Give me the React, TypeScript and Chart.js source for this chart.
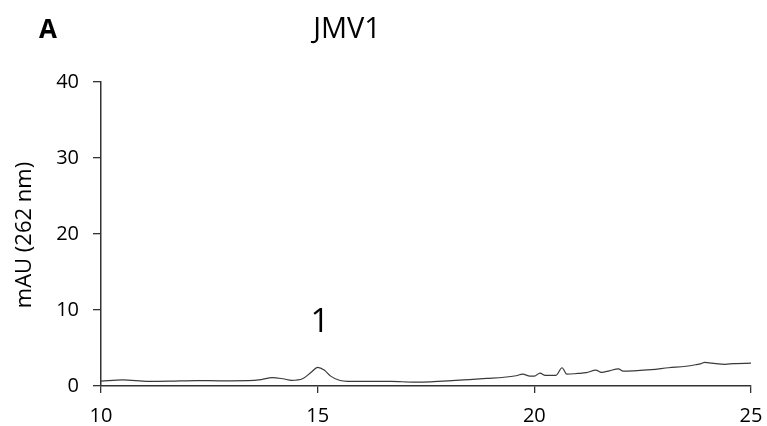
import React, { useEffect, useRef } from "react";
import { Chart, registerables } from "chart.js";

Chart.register(...registerables);

const times = [10, 10.5, 11.1, 11.6, 12.2, 12.8, 13.4, 13.7, 13.95, 14.2, 14.4, 14.65, 14.85, 15.0, 15.15, 15.3, 15.5, 15.7, 16.2, 16.7, 17.2, 17.6, 18.1, 18.5, 18.9, 19.3, 19.58, 19.73, 19.9, 20.0, 20.13, 20.25, 20.5, 20.64, 20.75, 21.0, 21.2, 21.42, 21.55, 21.73, 21.94, 22.05, 22.3, 22.7, 23.1, 23.5, 23.72, 23.85, 23.93, 24.1, 24.4, 24.6, 25];
const absorbance = [0.65, 0.8, 0.62, 0.65, 0.72, 0.68, 0.7, 0.85, 1.1, 0.95, 0.75, 0.95, 1.8, 2.45, 2.1, 1.3, 0.75, 0.62, 0.6, 0.6, 0.52, 0.55, 0.7, 0.85, 1.0, 1.15, 1.35, 1.55, 1.3, 1.3, 1.7, 1.4, 1.4, 2.4, 1.55, 1.65, 1.75, 2.1, 1.8, 2.0, 2.25, 1.95, 2.0, 2.15, 2.4, 2.6, 2.8, 2.95, 3.1, 3.0, 2.85, 2.95, 3.0];
const xTicks = [10, 15, 20, 25];
const yTicks = [0, 10, 20, 30, 40];
const peakLabels = [{ text: "1", x: 15.05, y: 8.4 }];
const panelLabel = "A";
const chartTitle = "JMV1";
const yAxisTitle = "mAU (262 nm)";

const FONT = "'Open Sans', 'Noto Sans', sans-serif";

export default function App() {
  const ref = useRef<HTMLCanvasElement | null>(null);
  useEffect(() => {
    if (!ref.current) return;
    const textPlugin = {
      id: "texts",
      afterDraw(chart: any) {
        const ctx = chart.ctx;
        const xs = chart.scales.x;
        const ys = chart.scales.y;
        ctx.save();
        ctx.fillStyle = "#000";
        ctx.textAlign = "center";
        ctx.textBaseline = "middle";
        ctx.font = `bold 26px ${FONT}`;
        ctx.fillText(panelLabel, 48, 31);
        ctx.font = `29px ${FONT}`;
        ctx.fillText(chartTitle, 347, 30);
        ctx.font = `33px ${FONT}`;
        for (const p of peakLabels) {
          ctx.fillText(p.text, xs.getPixelForValue(p.x), ys.getPixelForValue(p.y));
        }
        ctx.translate(25, 235);
        ctx.rotate(-Math.PI / 2);
        ctx.font = `22px ${FONT}`;
        ctx.fillText(yAxisTitle, 0, 0);
        ctx.restore();
      },
    };
    const chart = new Chart(ref.current, {
      type: "line",
      data: {
        datasets: [
          {
            data: times.map((t, i) => ({ x: t, y: absorbance[i] })),
            borderColor: "#3a3a3a",
            borderWidth: 1.2,
            pointRadius: 0,
            cubicInterpolationMode: "monotone",
            fill: false,
          },
        ],
      },
      options: {
        animation: false,
        responsive: false,
        devicePixelRatio: 1,
        layout: { padding: { left: 0, right: 16, top: 82, bottom: 0 } },
        plugins: { legend: { display: false }, tooltip: { enabled: false } },
        scales: {
          x: {
            type: "linear",
            min: 10,
            max: 25,
            afterBuildTicks: (s: any) => {
              s.ticks = xTicks.map((v) => ({ value: v }));
            },
            afterFit: (s: any) => {
              s.height = 40;
              s.paddingLeft = 0;
              s.paddingRight = 0;
            },
            ticks: { color: "#000", font: { family: FONT, size: 20 }, padding: 11, maxRotation: 0 },
            grid: { drawOnChartArea: false, tickLength: 7, color: "#333", lineWidth: 1.3 },
            border: { color: "#333", width: 1.5 },
          },
          y: {
            type: "linear",
            min: 0,
            max: 40,
            afterBuildTicks: (s: any) => {
              s.ticks = yTicks.map((v) => ({ value: v }));
            },
            afterFit: (s: any) => {
              s.width = 101;
              s.paddingTop = 0;
              s.paddingBottom = 0;
            },
            ticks: { color: "#000", font: { family: FONT, size: 20 }, padding: 14 },
            grid: { drawOnChartArea: false, tickLength: 8, color: "#333", lineWidth: 1.3 },
            border: { color: "#333", width: 1.5 },
          },
        },
      },
      plugins: [textPlugin],
    } as any);
    return () => chart.destroy();
  }, []);
  return (
    <div style={{ position: "fixed", left: 0, top: 0, width: 767, height: 426, background: "#fff" }}>
      <canvas ref={ref} width={767} height={426} style={{ display: "block" }} />
    </div>
  );
}
